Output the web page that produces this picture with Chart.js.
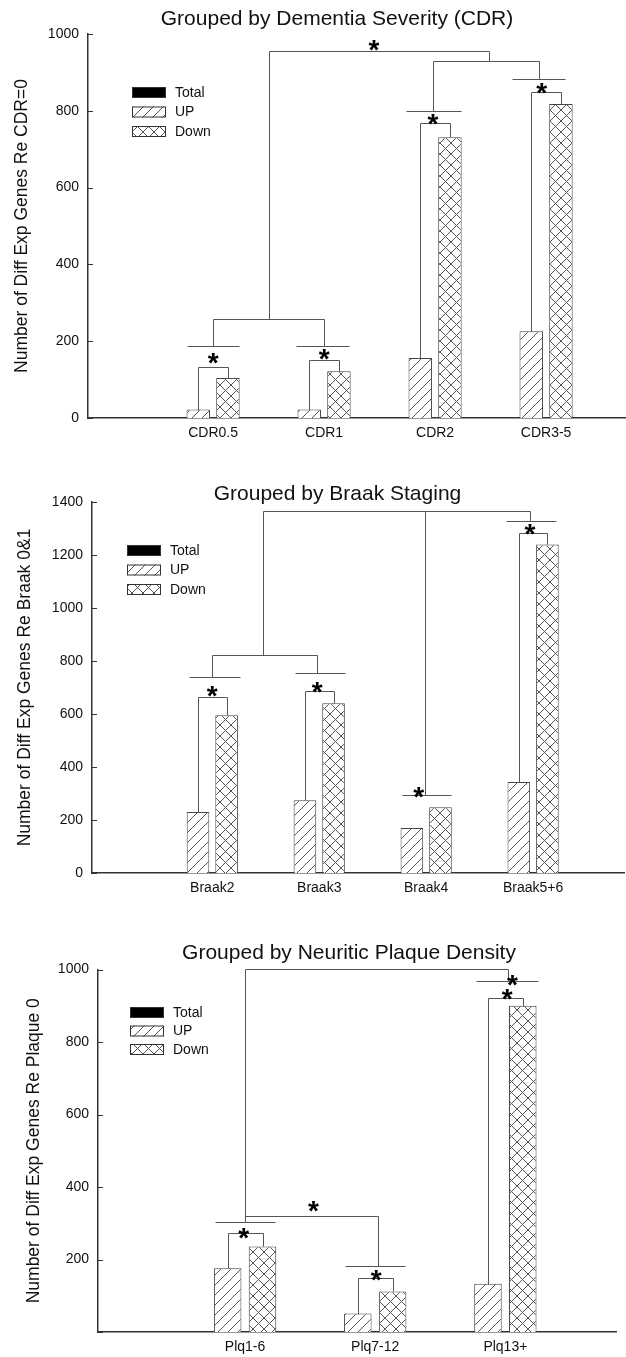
<!DOCTYPE html>
<html>
<head>
<meta charset="utf-8">
<script src="https://cdn.jsdelivr.net/npm/chart.js@4.4.1/dist/chart.umd.min.js"></script>
<style>
html, body { margin: 0; padding: 0; background: #fff; }
body { width: 626px; height: 1357px; position: relative; overflow: hidden; }
canvas { position: absolute; left: 0; }
</style>
</head>
<body>
<canvas id="cdr" width="626" height="450" style="top:0"></canvas>
<canvas id="braak" width="626" height="450" style="top:450px"></canvas>
<canvas id="plaque" width="626" height="457" style="top:900px"></canvas>
<script>
// ---- data ----
var cdrCategories = ['CDR0.5', 'CDR1', 'CDR2', 'CDR3-5'];
var cdrUp = [22, 22, 156, 226];
var cdrDown = [104, 122, 731, 818];
var cdrPairTop = [133, 150, 767, 848];
var cdrLines = [[0.764, 1.236, 188], [1.748, 2.227, 188], [2.739, 3.232, 799], [3.694, 4.173, 884]];
var cdrLinks = [
    [[1.0, 188], [1.0, 257], [2.0, 257], [2.0, 188]],
    [[2.984, 799], [2.984, 930], [3.935, 930], [3.935, 884]],
    [[1.506, 257], [1.506, 956], [3.485, 956], [3.485, 930]]
];
var cdrStars = [[1.0, 161], [2.0, 172], [2.98, 783], [3.96, 864], [2.45, 976]];

var braakCategories = ['Braak2', 'Braak3', 'Braak4', 'Braak5+6'];
var braakUp = [230, 275, 170, 343];
var braakDown = [595, 641, 248, 1240];
var braakPairTop = [663, 686, null, 1284];
var braakLines = [[0.786, 1.255, 741], [1.769, 2.245, 755], [2.773, 3.231, 295], [3.748, 4.217, 1328]];
var braakLinks = [
    [[1.0, 741], [1.0, 822], [1.975, 822], [1.975, 755]],
    [[1.476, 822], [1.476, 1367], [3.969, 1367], [3.969, 1328]],
    [[2.987, 1367], [2.987, 295]]
];
var braakStars = [[1.0, 694], [1.982, 709], [2.93, 314], [3.97, 1305]];

var plaqueCategories = ['Plq1-6', 'Plq7-12', 'Plq13+'];
var plaqueUp = [176, 51, 133];
var plaqueDown = [236, 112, 900];
var plaquePairTop = [273, 150, 920];
var plaqueLines = [[0.768, 1.229, 303], [1.768, 2.229, 182], [2.777, 3.248, 967]];
var plaqueLinks = [
    [[1.0, 303], [1.0, 1002], [3.017, 1002], [3.017, 967]],
    [[1.0, 319], [2.023, 319], [2.023, 182]]
];
var plaqueStars = [[0.99, 280], [2.008, 163], [3.014, 938], [3.054, 977], [1.525, 354]];

var seriesNames = ['Total', 'UP', 'Down'];

var FONT = "'Liberation Sans', Arial, sans-serif";
var INK = '#111';

function makePattern(size, cross) {
    var c = document.createElement('canvas');
    c.width = size;
    c.height = size;
    var g = c.getContext('2d');
    g.fillStyle = '#fff';
    g.fillRect(0, 0, size, size);
    g.strokeStyle = '#555';
    g.lineWidth = 1;
    g.beginPath();
    g.moveTo(-size / 2, size / 2); g.lineTo(size / 2, -size / 2);
    g.moveTo(0, size); g.lineTo(size, 0);
    g.moveTo(size / 2, size * 1.5); g.lineTo(size * 1.5, size / 2);
    if (cross) {
        g.moveTo(0, 0); g.lineTo(size, size);
        g.moveTo(-size / 2, size / 2); g.lineTo(size / 2, size * 1.5);
        g.moveTo(size / 2, -size / 2); g.lineTo(size * 1.5, size / 2);
    }
    g.stroke();
    return g.createPattern(c, 'repeat');
}

var slash = makePattern(10, false);
var cross = makePattern(11, true);

var sigPlugin = {
    id: 'sig',
    afterDraw: function (chart) {
        var o = chart.options.plugins.sig;
        var ctx = chart.ctx, xs = chart.scales.x, ys = chart.scales.y;
        var up = chart.data.datasets[0].data, down = chart.data.datasets[1].data;
        function X(v) { return xs.getPixelForValue(v); }
        function Y(v) { return ys.getPixelForValue(v); }
        function poly(pts) {
            ctx.beginPath();
            pts.forEach(function (p, i) {
                var x = Math.round(X(p[0])) + 0.5, y = Math.round(Y(p[1])) + 0.5;
                if (i == 0) ctx.moveTo(x, y); else ctx.lineTo(x, y);
            });
            ctx.stroke();
        }
        ctx.save();

        // inward tick marks
        ctx.strokeStyle = '#333';
        ctx.lineWidth = 1;
        ys.ticks.forEach(function (t) {
            var y = Math.round(Y(t.value)) + 0.5;
            ctx.beginPath();
            ctx.moveTo(xs.left, y);
            ctx.lineTo(xs.left + 5, y);
            ctx.stroke();
        });

        // significance brackets
        ctx.strokeStyle = '#555';
        o.pairTop.forEach(function (h, i) {
            if (h == null) return;
            var c = i + 1;
            poly([[c - 0.134, up[i].y], [c - 0.134, h], [c + 0.134, h], [c + 0.134, down[i].y]]);
        });
        o.lines.forEach(function (l) { poly([[l[0], l[2]], [l[1], l[2]]]); });
        o.links.forEach(poly);

        ctx.fillStyle = '#000';
        ctx.font = 'bold 28px ' + FONT;
        ctx.textAlign = 'center';
        ctx.textBaseline = 'alphabetic';
        o.stars.forEach(function (s) {
            ctx.fillText('*', X(s[0]), Y(s[1]) + 16);
        });

        // legend
        var lg = o.legend;
        ctx.font = '14px ' + FONT;
        ctx.textAlign = 'left';
        ctx.textBaseline = 'middle';
        seriesNames.forEach(function (name, i) {
            var y = lg.y + i * lg.step;
            ctx.fillStyle = i == 0 ? '#000' : (i == 1 ? slash : cross);
            ctx.fillRect(lg.x, y, 34, 11);
            ctx.strokeStyle = '#333';
            ctx.strokeRect(lg.x + 0.5, y + 0.5, 33, 10);
            ctx.fillStyle = INK;
            ctx.fillText(name, lg.x + 43, y + 6);
        });

        // title
        ctx.font = '21px ' + FONT;
        ctx.textAlign = 'center';
        ctx.textBaseline = 'alphabetic';
        ctx.fillStyle = INK;
        ctx.fillText(o.title.text, o.title.x, o.title.y);

        ctx.restore();
    }
};

function drawChart(id, cats, up, down, sig, s) {
    var ctx = document.getElementById(id).getContext('2d');
    new Chart(ctx, {
        type: 'bar',
        data: {
            datasets: [{
                label: 'UP',
                data: up.map(function (v, i) { return {x: i + 1, y: v}; }),
                backgroundColor: slash,
                borderColor: '#444',
                borderWidth: 1
            }, {
                label: 'Down',
                data: down.map(function (v, i) { return {x: i + 1, y: v}; }),
                backgroundColor: cross,
                borderColor: '#444',
                borderWidth: 1
            }]
        },
        options: {
            responsive: false,
            animation: false,
            devicePixelRatio: 1,
            categoryPercentage: 0.535,
            barPercentage: 0.79,
            layout: {padding: {top: s.top, bottom: 2, left: 0, right: s.right}},
            plugins: {
                legend: {display: false},
                tooltip: {enabled: false},
                sig: sig
            },
            scales: {
                x: {
                    type: 'linear',
                    offset: false,
                    min: s.xmin,
                    max: s.xmax,
                    grid: {display: false, drawTicks: false},
                    border: {color: '#333', width: 1.5},
                    afterBuildTicks: function (axis) {
                        axis.ticks = cats.map(function (c, i) { return {value: i + 1}; });
                    },
                    afterFit: function (axis) { axis.height = s.xh; },
                    ticks: {
                        padding: 7,
                        maxRotation: 0,
                        color: INK,
                        font: {family: FONT, size: 14},
                        callback: function (v) { return cats[v - 1]; }
                    }
                },
                y: {
                    min: 0,
                    max: s.ymax,
                    grid: {display: false, drawTicks: false},
                    border: {color: '#333', width: 1.5},
                    afterFit: function (axis) { axis.width = s.left; },
                    ticks: {
                        stepSize: 200,
                        padding: 9,
                        color: INK,
                        font: {family: FONT, size: 14},
                        callback: function (v) { return (v == 0 && s.hideZero) ? '' : v; }
                    },
                    title: {
                        display: true,
                        text: s.ytitle,
                        color: INK,
                        font: {family: FONT, size: 17.5},
                        padding: {top: s.tpad, bottom: 0}
                    }
                }
            }
        },
        plugins: [sigPlugin]
    });
}

drawChart('cdr', cdrCategories, cdrUp, cdrDown, {
    pairTop: cdrPairTop, lines: cdrLines, links: cdrLinks, stars: cdrStars,
    legend: {x: 132, y: 87, step: 19.5},
    title: {text: 'Grouped by Dementia Severity (CDR)', x: 337, y: 25}
}, {top: 34, right: 0, xh: 30, left: 88, xmin: -0.127, xmax: 4.72, ymax: 1000,
    ytitle: 'Number of Diff Exp Genes Re CDR=0', tpad: 11.5, hideZero: false});

drawChart('braak', braakCategories, braakUp, braakDown, {
    pairTop: braakPairTop, lines: braakLines, links: braakLinks, stars: braakStars,
    legend: {x: 127, y: 95, step: 19.5},
    title: {text: 'Grouped by Braak Staging', x: 337.5, y: 50}
}, {top: 52, right: 2, xh: 25, left: 92, xmin: -0.125, xmax: 4.85, ymax: 1400,
    ytitle: 'Number of Diff Exp Genes Re Braak 0&1', tpad: 14.5, hideZero: false});

drawChart('plaque', plaqueCategories, plaqueUp, plaqueDown, {
    pairTop: plaquePairTop, lines: plaqueLines, links: plaqueLinks, stars: plaqueStars,
    legend: {x: 130, y: 107, step: 18.5},
    title: {text: 'Grouped by Neuritic Plaque Density', x: 349, y: 59}
}, {top: 69.5, right: 10, xh: 23, left: 98, xmin: -0.13, xmax: 3.85, ymax: 1000,
    ytitle: 'Number of Diff Exp Genes Re Plaque 0', tpad: 24, hideZero: true});
</script>
</body>
</html>
